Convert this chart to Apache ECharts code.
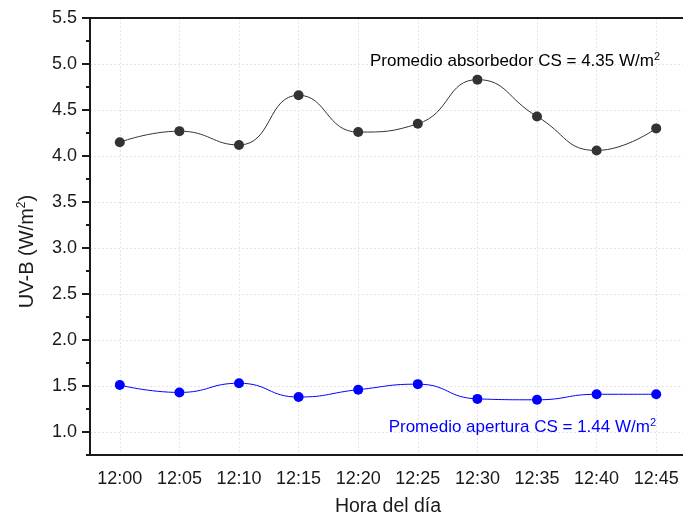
<!DOCTYPE html>
<html>
<head>
<meta charset="utf-8">
<script src="https://cdn.jsdelivr.net/npm/echarts@6/dist/echarts.min.js"></script>
<style>
  html, body { margin: 0; padding: 0; background: #fff; }
  #chart { width: 683px; height: 518px; }
</style>
</head>
<body>
<div id="chart"></div>
<script>
  const horas = ['12:00', '12:05', '12:10', '12:15', '12:20', '12:25', '12:30', '12:35', '12:40', '12:45'];
  const absorbedor = [4.15, 4.27, 4.12, 4.66, 4.26, 4.35, 4.83, 4.43, 4.06, 4.30];
  const apertura = [1.51, 1.43, 1.53, 1.38, 1.46, 1.52, 1.36, 1.35, 1.41, 1.41];
  const yMajorTicks = [1.0, 1.5, 2.0, 2.5, 3.0, 3.5, 4.0, 4.5, 5.0, 5.5];
  const yMinorTicks = [0.75, 1.25, 1.75, 2.25, 2.75, 3.25, 3.75, 4.25, 4.75, 5.25];

  const font = '"Liberation Sans", Arial, sans-serif';
  const dark = '#1a1a1a';

  const chart = echarts.init(document.getElementById('chart'));

  const option = {
    animation: false,
    textStyle: { fontFamily: font },
    grid: { left: 90, right: -3, top: 18, bottom: 63, outerBoundsMode: 'none', containLabel: false },
    xAxis: [
      {
        type: 'category',
        data: horas,
        boundaryGap: true,
        name: 'Hora del día',
        nameLocation: 'middle',
        nameGap: 42,
        nameTextStyle: { fontSize: 19.5, color: dark, fontFamily: font },
        axisLine: { lineStyle: { color: dark, width: 2 } },
        axisTick: { alignWithLabel: true, length: 7, lineStyle: { color: dark, width: 2 } },
        axisLabel: { fontSize: 18, color: dark, margin: 15, fontFamily: font },
        splitLine: { show: true, alignWithLabel: true, lineStyle: { color: '#e6e6e6', type: [2, 2], width: 1 } }
      },
      {
        type: 'category',
        data: horas,
        position: 'top',
        axisLine: { lineStyle: { color: dark, width: 2 } },
        axisTick: { show: false },
        axisLabel: { show: false },
        splitLine: { show: false }
      }
    ],
    yAxis: [
      {
        type: 'value',
        min: 0.75,
        max: 5.5,
        interval: 0.25,
        name: 'UV-B (W/m{sup|2})',
        nameLocation: 'middle',
        nameGap: 51,
        nameTextStyle: {
          fontSize: 20, color: dark, fontFamily: font,
          padding: [0, 30, 0, 0],
          rich: { sup: { fontSize: 12, verticalAlign: 'top', padding: [0, 0, 11, 0], color: dark, fontFamily: font } }
        },
        axisLine: { show: true, lineStyle: { color: dark, width: 2 } },
        axisTick: { show: true, customValues: yMajorTicks, length: 8, lineStyle: { color: dark, width: 2 } },
        axisLabel: {
          customValues: yMajorTicks,
          fontSize: 18, color: dark, margin: 13, fontFamily: font,
          formatter: v => v.toFixed(1)
        },
        splitLine: { show: true, lineStyle: { color: '#e6e6e6', type: [2, 2], width: 1 } }
      },
      {
        type: 'value',
        min: 0.75,
        max: 5.5,
        interval: 0.25,
        position: 'left',
        axisLine: { show: false },
        axisTick: { show: true, customValues: yMinorTicks, length: 4, lineStyle: { color: dark, width: 2 } },
        axisLabel: { show: false },
        splitLine: { show: false }
      }
    ],
    series: [
      {
        name: 'absorbedor',
        type: 'line',
        data: absorbedor,
        smooth: 0.5,
        symbol: 'circle',
        symbolSize: 10,
        lineStyle: { color: '#333', width: 1 },
        itemStyle: { color: '#333' }
      },
      {
        name: 'apertura',
        type: 'line',
        data: apertura,
        smooth: 0.5,
        symbol: 'circle',
        symbolSize: 10,
        lineStyle: { color: '#0000ff', width: 1 },
        itemStyle: { color: '#0000ff' }
      }
    ],
    graphic: [
      {
        type: 'text',
        right: 23,
        top: 51,
        z: 100,
        style: {
          text: 'Promedio absorbedor CS = 4.35 W/m{sup|2}',
          font: '17px ' + font,
          fill: '#000',
          rich: { sup: { fontSize: 11, verticalAlign: 'top', padding: [0, 0, 10, 0], fill: '#000', fontFamily: font } }
        }
      },
      {
        type: 'text',
        right: 27,
        top: 417,
        z: 100,
        style: {
          text: 'Promedio apertura CS = 1.44 W/m{sup|2}',
          font: '17px ' + font,
          fill: '#0000ff',
          rich: { sup: { fontSize: 11, verticalAlign: 'top', padding: [0, 0, 10, 0], fill: '#0000ff', fontFamily: font } }
        }
      }
    ]
  };

  chart.setOption(option);
</script>
</body>
</html>
